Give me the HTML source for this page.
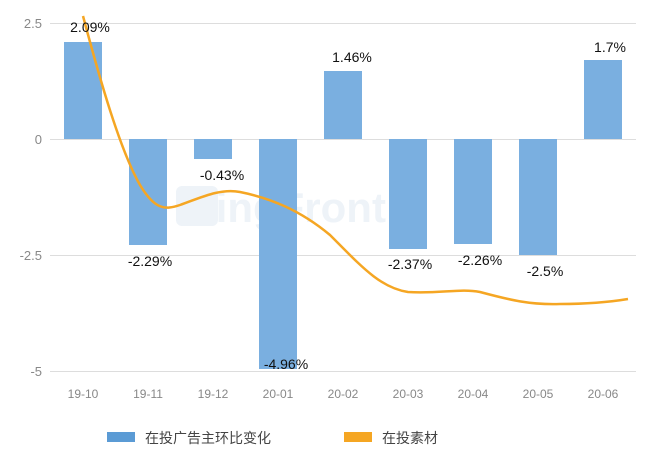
<!DOCTYPE html>
<html><head><meta charset="utf-8"><style>
html,body{margin:0;padding:0;background:#fff;}
</style></head><body>
<svg width="665" height="460" xmlns="http://www.w3.org/2000/svg" font-family="Liberation Sans, Noto Sans CJK SC, sans-serif">
<g stroke="#ddd" stroke-width="1">
<line x1="50" y1="23.5" x2="636" y2="23.5"/>
<line x1="50" y1="139.5" x2="636" y2="139.5"/>
<line x1="50" y1="255.5" x2="636" y2="255.5"/>
<line x1="50" y1="371.5" x2="636" y2="371.5"/>
</g>
<g fill="#888" font-size="13" text-anchor="end">
<text x="42" y="28">2.5</text>
<text x="42" y="144">0</text>
<text x="42" y="260">-2.5</text>
<text x="42" y="376">-5</text>
</g>
<text x="190" y="222" font-size="42" font-weight="bold" fill="#eef3f8">ZingFront</text>
<rect x="176" y="186" width="42" height="40" rx="6" fill="#eef3f8"/>
<g fill="#7aafe0">
<rect x="64" y="42" width="38" height="97"/>
<rect x="129" y="139" width="38" height="106"/>
<rect x="194" y="139" width="38" height="20"/>
<rect x="259" y="139" width="38" height="230"/>
<rect x="324" y="71" width="38" height="68"/>
<rect x="389" y="139" width="38" height="110"/>
<rect x="454" y="139" width="38" height="105"/>
<rect x="519" y="139" width="38" height="116"/>
<rect x="584" y="60" width="38" height="79"/>
</g>
<path d="M83,16 C100,80 120,150 140,185 C155,210 165,210 180,205 C200,198 220,188 240,192 C270,198 300,210 330,235 C360,265 380,288 408,292 C440,294 460,288 480,292 C510,300 530,305 560,304 C590,304 610,302 628,299" fill="none" stroke="#f5a623" stroke-width="2.5"/>
<g fill="#111" font-size="14" text-anchor="middle">
<text x="90" y="32">2.09%</text>
<text x="150" y="266">-2.29%</text>
<text x="222" y="180">-0.43%</text>
<text x="286" y="369">-4.96%</text>
<text x="352" y="62">1.46%</text>
<text x="410" y="269">-2.37%</text>
<text x="480" y="265">-2.26%</text>
<text x="545" y="276">-2.5%</text>
<text x="610" y="52">1.7%</text>
</g>
<g fill="#888" font-size="12" text-anchor="middle">
<text x="83" y="398">19-10</text>
<text x="148" y="398">19-11</text>
<text x="213" y="398">19-12</text>
<text x="278" y="398">20-01</text>
<text x="343" y="398">20-02</text>
<text x="408" y="398">20-03</text>
<text x="473" y="398">20-04</text>
<text x="538" y="398">20-05</text>
<text x="603" y="398">20-06</text>
</g>
<rect x="107" y="432" width="28" height="10" fill="#5b9bd5"/>
<text x="145" y="443" font-size="14" fill="#444">在投广告主环比变化</text>
<rect x="344" y="432" width="28" height="10" fill="#f5a623"/>
<text x="382" y="443" font-size="14" fill="#444">在投素材</text>
</svg>
</body></html>
